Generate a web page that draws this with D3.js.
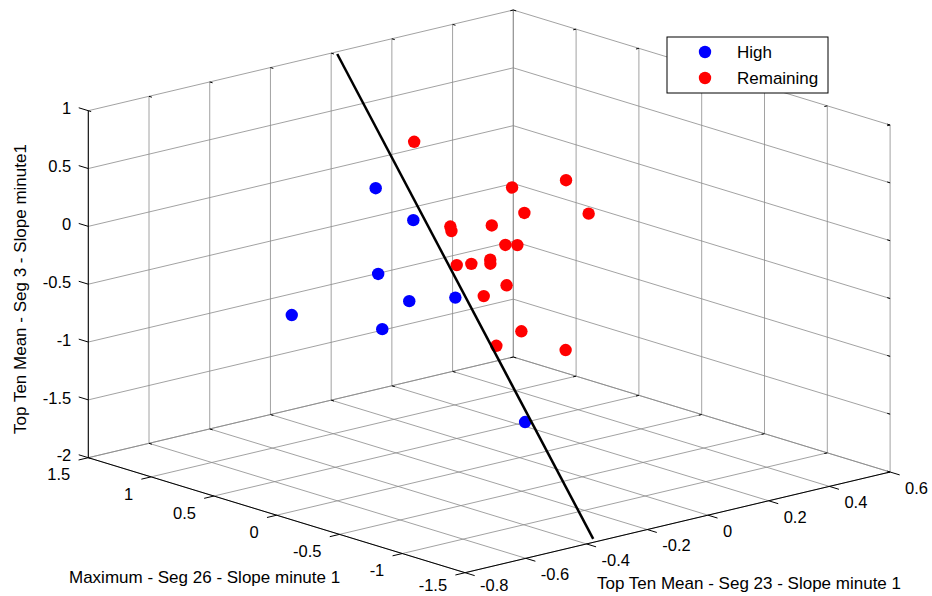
<!DOCTYPE html>
<html>
<head>
<meta charset="utf-8">
<script src="https://cdn.jsdelivr.net/npm/d3@7"></script>
<style>
  body { margin: 0; background: #fff; }
  text { font-family: Arial, "Liberation Sans", sans-serif; fill: #000; }
</style>
</head>
<body>
<svg id="chart" width="932" height="596"></svg>
<script>
// tick values
const xTicks = [-1.5, -1, -0.5, 0, 0.5, 1, 1.5];
const yTicks = [-0.8, -0.6, -0.4, -0.2, 0, 0.2, 0.4, 0.6];
const zTicks = [-2, -1.5, -1, -0.5, 0, 0.5, 1];

// "High" group
const highX = [0.5, 0.8, 0.2, 0.1, 0.4, 0.9, -0.2, -0.6];
const highY = [-0.267, -0.019, -0.383, -0.322, -0.046, -0.378, -0.535, -0.23];
const highZ = [0.33, -0.2, -0.24, -0.48, -0.72, -0.83, -0.49, -1.35];

// "Remaining" group
const remX = [0.3, -0.3, -0.1, -0.5, -0.7, 0, 0.1, -0.4, 0.2, -0.2, -0.3, 0.5, -0.1, 0.3, -0.6, 0, -0.8, -0.4, -1.0];
const remY = [-0.223, 0.029, -0.066, -0.191, -0.062, -0.228, -0.183, -0.257, 0.036, -0.09, -0.331, 0.048, -0.138, 0.028, -0.291, -0.118, -0.325, -0.242, -0.262];
const remZ = [0.77, 0.48, 0.41, 0.4, 0.38, 0.14, 0.04, 0.3, -0.25, -0.04, -0.03, -0.52, -0.17, -0.44, -0.13, -0.53, -0.44, -0.75, -0.575];

// separating line (two ends)
const lineX = [1.5, -1.5];
const lineY = [0.02, -0.378];
const lineZ = [0.98, -1.97];

const xLabel = "Maximum - Seg 26 - Slope minute 1";
const yLabel = "Top Ten Mean - Seg 23 - Slope minute 1";
const zLabel = "Top Ten Mean - Seg 3 - Slope minute1";

const svg = d3.select("#chart");

// box fractions
const xs = d3.scaleLinear().domain([1.5, -1.5]).range([0, 1]);
const ys = d3.scaleLinear().domain([-0.8, 0.6]).range([0, 1]);
const zs = d3.scaleLinear().domain([-2, 1]).range([0, 1]);

// orthographic view: corner (x=1.5,y=-0.8,z=-2) and edge vectors in px
const O = [88.3, 457.7];
const U = [376.8, 115];   // along x
const V = [425, -100.7];  // along y
const H = 347;            // along z

function proj(x, y, z) {
  const u = xs(x), v = ys(y), w = zs(z);
  return [O[0] + U[0] * u + V[0] * v, O[1] + U[1] * u + V[1] * v - H * w];
}

function seg(g, a, b) {
  return g.append("line")
    .attr("x1", a[0]).attr("y1", a[1])
    .attr("x2", b[0]).attr("y2", b[1]);
}

// plain hyphen-minus like the original
const fmt = (v) => String(+v.toFixed(2));

const grid = svg.append("g")
  .attr("stroke", "#8a8a8a")
  .attr("stroke-width", 0.8);

// floor z=-2
xTicks.forEach((x) => seg(grid, proj(x, -0.8, -2), proj(x, 0.6, -2)));
yTicks.forEach((y) => seg(grid, proj(1.5, y, -2), proj(-1.5, y, -2)));
// wall x=1.5
yTicks.forEach((y) => seg(grid, proj(1.5, y, -2), proj(1.5, y, 1)));
zTicks.forEach((z) => seg(grid, proj(1.5, -0.8, z), proj(1.5, 0.6, z)));
// wall y=0.6
xTicks.forEach((x) => seg(grid, proj(x, 0.6, -2), proj(x, 0.6, 1)));
zTicks.forEach((z) => seg(grid, proj(1.5, 0.6, z), proj(-1.5, 0.6, z)));

// unit directions for ticks
function unit(v) {
  const l = Math.hypot(v[0], v[1]);
  return [v[0] / l, v[1] / l];
}
const dirX = unit(U), dirY = unit(V);

const axes = svg.append("g").attr("stroke", "#000").attr("stroke-width", 1);
seg(axes, proj(1.5, -0.8, -2), proj(1.5, -0.8, 1));
seg(axes, proj(1.5, -0.8, -2), proj(-1.5, -0.8, -2));
seg(axes, proj(-1.5, -0.8, -2), proj(-1.5, 0.6, -2));

const tl = 10, tf = 3;
// z ticks: outward along -x direction
zTicks.forEach((z) => {
  const p = proj(1.5, -0.8, z);
  seg(axes, p, [p[0] - dirX[0] * tl, p[1] - dirX[1] * tl]);
  const q = proj(-1.5, 0.6, z);
  seg(axes, q, [q[0] - dirX[0] * tf, q[1] - dirX[1] * tf]);
});
// x ticks: outward along -y direction
xTicks.forEach((x) => {
  const p = proj(x, -0.8, -2);
  seg(axes, p, [p[0] - dirY[0] * tl, p[1] - dirY[1] * tl]);
  [-2, 1].forEach((z) => {
    const q = proj(x, 0.6, z);
    seg(axes, q, [q[0] - dirY[0] * tf, q[1] - dirY[1] * tf]);
  });
});
// y ticks: outward along +x direction
yTicks.forEach((y) => {
  const p = proj(-1.5, y, -2);
  seg(axes, p, [p[0] + dirX[0] * tl, p[1] + dirX[1] * tl]);
  [-2, 1].forEach((z) => {
    const q = proj(1.5, y, z);
    seg(axes, q, [q[0] + dirX[0] * tf, q[1] + dirX[1] * tf]);
  });
});

const fs = "17px";
const tfs = "16.5px";
const labels = svg.append("g").style("font-size", tfs);
const maxLabelY = 585; // keep the lowest tick labels inside the picture

zTicks.forEach((z) => {
  const p = proj(1.5, -0.8, z);
  labels.append("text")
    .attr("x", p[0] - 17).attr("y", p[1] - 2).attr("dy", "0.35em")
    .attr("text-anchor", "end").text(fmt(z));
});
xTicks.forEach((x) => {
  const p = proj(x, -0.8, -2);
  labels.append("text")
    .attr("x", p[0] - 18).attr("y", Math.min(p[1] + 17, maxLabelY)).attr("dy", "0.35em")
    .attr("text-anchor", "end").text(fmt(x));
});
yTicks.forEach((y) => {
  const p = proj(-1.5, y, -2);
  labels.append("text")
    .attr("x", p[0] + 15).attr("y", Math.min(p[1] + 16, maxLabelY)).attr("dy", "0.35em")
    .attr("text-anchor", "start").text(fmt(y));
});

const titles = svg.append("g").style("font-size", fs);
titles.append("text").attr("x", 69).attr("y", 583).text(xLabel);
titles.append("text").attr("x", 597).attr("y", 589).text(yLabel);
titles.append("text")
  .attr("transform", "translate(26,289) rotate(-90)")
  .attr("text-anchor", "middle").text(zLabel);

// points
const high = highX.map((x, i) => proj(x, highY[i], highZ[i]));
const rem = remX.map((x, i) => proj(x, remY[i], remZ[i]));

svg.append("g").selectAll("circle").data(high).enter().append("circle")
  .attr("cx", (d) => d[0]).attr("cy", (d) => d[1]).attr("r", 6.2)
  .attr("fill", "#0000ff");
svg.append("g").selectAll("circle").data(rem).enter().append("circle")
  .attr("cx", (d) => d[0]).attr("cy", (d) => d[1]).attr("r", 6.2)
  .attr("fill", "#ff0000");

// black line
const lp = lineX.map((x, i) => proj(x, lineY[i], lineZ[i]));
svg.append("path")
  .attr("d", d3.line()(lp))
  .attr("stroke", "#000").attr("stroke-width", 2.5).attr("fill", "none");

// legend
const lg = svg.append("g");
lg.append("rect")
  .attr("x", 667).attr("y", 37).attr("width", 161).attr("height", 56)
  .attr("fill", "#fff").attr("stroke", "#000").attr("stroke-width", 1);
const legendNames = ["High", "Remaining"];
const legendColors = ["#0000ff", "#ff0000"];
legendNames.forEach((name, i) => {
  const cy = 52 + i * 26;
  lg.append("circle").attr("cx", 705).attr("cy", cy).attr("r", 6.2).attr("fill", legendColors[i]);
  lg.append("text").attr("x", 737).attr("y", cy).attr("dy", "0.35em")
    .style("font-size", fs).text(name);
});
</script>
</body>
</html>
